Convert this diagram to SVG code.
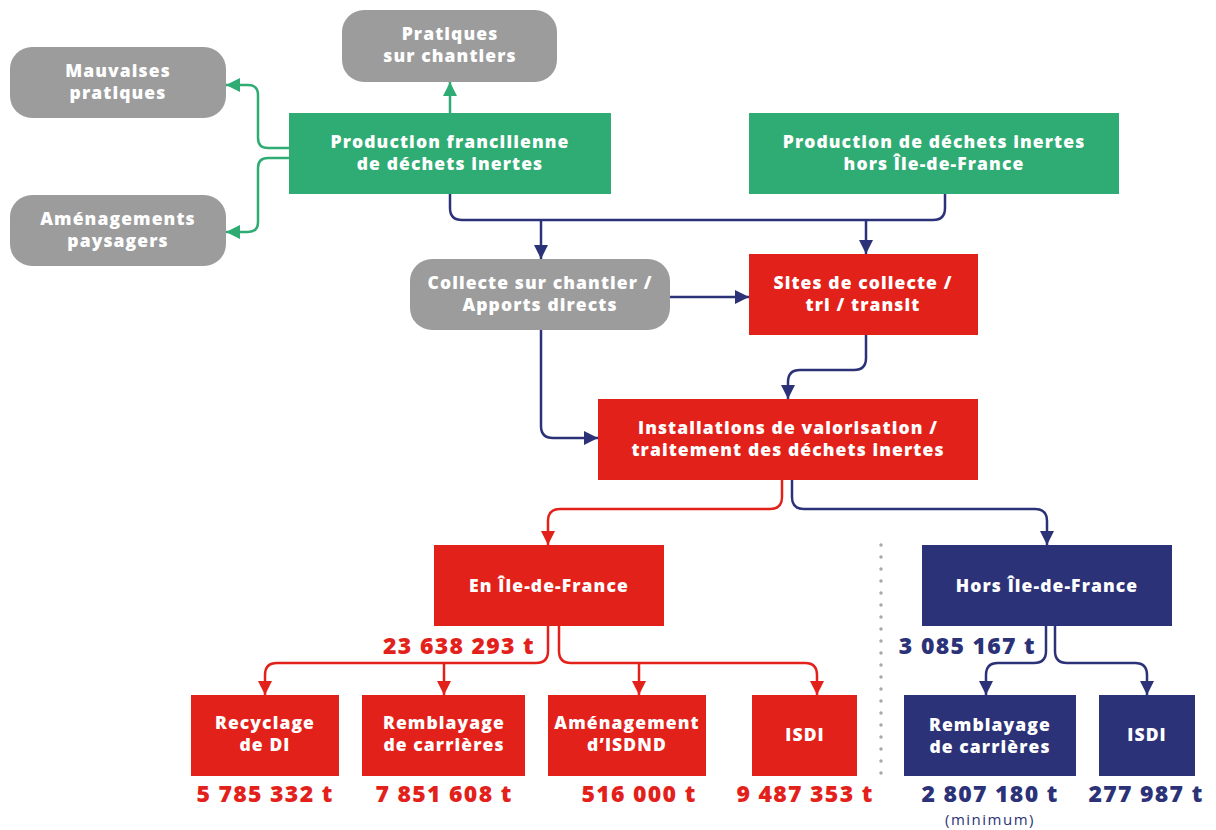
<svg xmlns="http://www.w3.org/2000/svg" width="1216" height="830" viewBox="0 0 1216 830">
  <defs>
    <style>
      .bg { fill: #ffffff; }
      .green { fill: #2fab74; }
      .red { fill: #e3211b; }
      .navy { fill: #2c3278; }
      .gray { fill: #9c9c9c; }
      .lbl { font-family: "Open Sans", Lato, sans-serif; font-weight: 800; font-size: 17.5px; fill: #ffffff; text-anchor: middle; letter-spacing: 1.1px; }
      .num { font-family: "Open Sans", Lato, sans-serif; font-weight: 800; font-size: 23px; text-anchor: middle; letter-spacing: 1.3px; }
      .numR { fill: #e3211b; }
      .numN { fill: #2c3278; }
      .minor { font-family: "Open Sans", Lato, sans-serif; font-weight: 400; font-size: 15px; fill: #2c3278; text-anchor: middle; letter-spacing: 1.5px; }
      .cG { fill: none; stroke: #2fab74; stroke-width: 2.5; }
      .cN { fill: none; stroke: #2c3278; stroke-width: 2.5; }
      .cR { fill: none; stroke: #e3211b; stroke-width: 2.5; }
      .sep { fill: none; stroke: #a8a8a8; stroke-width: 3.5; stroke-linecap: round; stroke-dasharray: 0 12; }
    </style>
    <marker id="aG" markerUnits="userSpaceOnUse" markerWidth="16" markerHeight="16" refX="14" refY="8" orient="auto">
      <path d="M0,1 L14,8 L0,15 Z" fill="#2fab74"/>
    </marker>
    <marker id="aN" markerUnits="userSpaceOnUse" markerWidth="16" markerHeight="16" refX="14" refY="8" orient="auto">
      <path d="M0,1 L14,8 L0,15 Z" fill="#2c3278"/>
    </marker>
    <marker id="aR" markerUnits="userSpaceOnUse" markerWidth="16" markerHeight="16" refX="14" refY="8" orient="auto">
      <path d="M0,1 L14,8 L0,15 Z" fill="#e3211b"/>
    </marker>
  </defs>

  <rect class="bg" x="0" y="0" width="1216" height="830"/>

  <!-- connectors -->
  <g id="connectors">
    <!-- green: from the Île-de-France production box -->
    <path class="cG" d="M450,113 V82" marker-end="url(#aG)"/>
    <path class="cG" d="M289,148 H268 Q258,148 258,138 V95 Q258,85 248,85 H226" marker-end="url(#aG)"/>
    <path class="cG" d="M289,158 H268 Q258,158 258,168 V222 Q258,232 248,232 H226" marker-end="url(#aG)"/>

    <!-- navy: productions towards collection -->
    <path class="cN" d="M450,194 V208 Q450,220 462,220 H933 Q945,220 945,208 V194"/>
    <path class="cN" d="M541,220 V259" marker-end="url(#aN)"/>
    <path class="cN" d="M866,220 V254" marker-end="url(#aN)"/>
    <path class="cN" d="M670,297 H749" marker-end="url(#aN)"/>
    <path class="cN" d="M866,335 V358 Q866,370 854,370 H800 Q788,370 788,382 V399" marker-end="url(#aN)"/>
    <path class="cN" d="M541,330 V426 Q541,438 553,438 H598" marker-end="url(#aN)"/>

    <!-- installations split -->
    <path class="cR" d="M782,480 V497 Q782,509 770,509 H560 Q548,509 548,521 V545" marker-end="url(#aR)"/>
    <path class="cN" d="M792,480 V497 Q792,509 804,509 H1035 Q1047,509 1047,521 V545" marker-end="url(#aN)"/>

    <!-- Île-de-France outlets -->
    <path class="cR" d="M548,626 V651 Q548,663 536,663 H277 Q265,663 265,675 V695" marker-end="url(#aR)"/>
    <path class="cR" d="M444,663 V695" marker-end="url(#aR)"/>
    <path class="cR" d="M559,626 V651 Q559,663 571,663 H805 Q817,663 817,675 V695" marker-end="url(#aR)"/>
    <path class="cR" d="M639,663 V695" marker-end="url(#aR)"/>

    <!-- outlets outside Île-de-France -->
    <path class="cN" d="M1046,626 V651 Q1046,663 1034,663 H998 Q986,663 986,675 V695" marker-end="url(#aN)"/>
    <path class="cN" d="M1055,626 V651 Q1055,663 1067,663 H1135 Q1147,663 1147,675 V695" marker-end="url(#aN)"/>

    <!-- dotted separator -->
    <path class="sep" d="M881,545 V782"/>
  </g>

  <!-- nodes -->
  <g id="n-pratiques-chantiers">
    <rect class="gray" x="342" y="10" width="215" height="72" rx="22"/>
    <text class="lbl" x="450" y="40">Pratiques</text>
    <text class="lbl" x="450" y="62">sur chantiers</text>
  </g>
  <g id="n-mauvaises">
    <rect class="gray" x="10" y="47" width="216" height="71" rx="22"/>
    <text class="lbl" x="118" y="77">Mauvaises</text>
    <text class="lbl" x="118" y="99">pratiques</text>
  </g>
  <g id="n-amenagements">
    <rect class="gray" x="10" y="195" width="216" height="71" rx="22"/>
    <text class="lbl" x="118" y="225">Aménagements</text>
    <text class="lbl" x="118" y="247">paysagers</text>
  </g>
  <g id="n-prod-idf">
    <rect class="green" x="289" y="113" width="322" height="81"/>
    <text class="lbl" x="450" y="148">Production francilienne</text>
    <text class="lbl" x="450" y="170">de déchets inertes</text>
  </g>
  <g id="n-prod-hors">
    <rect class="green" x="749" y="113" width="370" height="81"/>
    <text class="lbl" x="934" y="148">Production de déchets inertes</text>
    <text class="lbl" x="934" y="170">hors Île-de-France</text>
  </g>
  <g id="n-collecte">
    <rect class="gray" x="410" y="259" width="260" height="71" rx="22"/>
    <text class="lbl" x="540" y="289">Collecte sur chantier /</text>
    <text class="lbl" x="540" y="311">Apports directs</text>
  </g>
  <g id="n-sites">
    <rect class="red" x="749" y="254" width="229" height="81"/>
    <text class="lbl" x="863" y="289">Sites de collecte /</text>
    <text class="lbl" x="863" y="311">tri / transit</text>
  </g>
  <g id="n-installations">
    <rect class="red" x="598" y="399" width="380" height="81"/>
    <text class="lbl" x="788" y="434">Installations de valorisation /</text>
    <text class="lbl" x="788" y="456">traitement des déchets inertes</text>
  </g>
  <g id="n-en-idf">
    <rect class="red" x="434" y="545" width="230" height="81"/>
    <text class="lbl" x="549" y="592">En Île-de-France</text>
    <text class="num numR" x="535" y="654" style="text-anchor:end">23 638 293 t</text>
  </g>
  <g id="n-hors-idf">
    <rect class="navy" x="922" y="545" width="250" height="81"/>
    <text class="lbl" x="1047" y="592">Hors Île-de-France</text>
    <text class="num numN" x="1036" y="654" style="text-anchor:end">3 085 167 t</text>
  </g>
  <g id="n-recyclage">
    <rect class="red" x="191" y="695" width="148" height="81"/>
    <text class="lbl" x="265" y="729">Recyclage</text>
    <text class="lbl" x="265" y="751">de DI</text>
    <text class="num numR" x="265" y="802">5 785 332 t</text>
  </g>
  <g id="n-remblayage-idf">
    <rect class="red" x="362" y="695" width="163" height="81"/>
    <text class="lbl" x="444" y="729">Remblayage</text>
    <text class="lbl" x="444" y="751">de carrières</text>
    <text class="num numR" x="444" y="802">7 851 608 t</text>
  </g>
  <g id="n-isdnd">
    <rect class="red" x="548" y="695" width="158" height="81"/>
    <text class="lbl" x="627" y="729">Aménagement</text>
    <text class="lbl" x="627" y="751">d’ISDND</text>
    <text class="num numR" x="639" y="802">516 000 t</text>
  </g>
  <g id="n-isdi-idf">
    <rect class="red" x="752" y="695" width="105" height="81"/>
    <text class="lbl" x="805" y="741">ISDI</text>
    <text class="num numR" x="805" y="802">9 487 353 t</text>
  </g>
  <g id="n-remblayage-hors">
    <rect class="navy" x="904" y="695" width="172" height="81"/>
    <text class="lbl" x="990" y="731">Remblayage</text>
    <text class="lbl" x="990" y="753">de carrières</text>
    <text class="num numN" x="990" y="802">2 807 180 t</text>
    <text class="minor" x="990" y="825">(minimum)</text>
  </g>
  <g id="n-isdi-hors">
    <rect class="navy" x="1099" y="695" width="96" height="81"/>
    <text class="lbl" x="1147" y="741">ISDI</text>
    <text class="num numN" x="1146" y="802">277 987 t</text>
  </g>
</svg>
